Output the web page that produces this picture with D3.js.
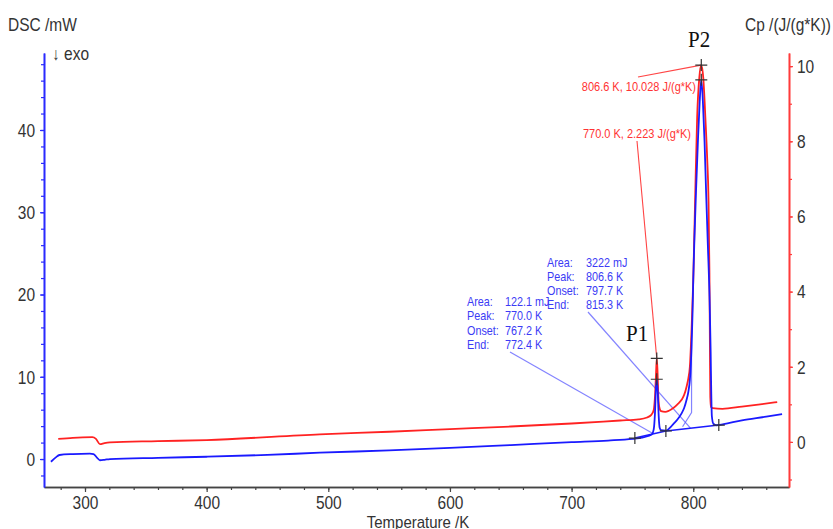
<!DOCTYPE html>
<meta charset="utf-8">
<head>
<style>
  body { margin: 0; background: #fff; }
  text { font-family: Arial, "Liberation Sans", sans-serif; }
</style>
<script src="https://d3js.org/d3.v7.min.js"></script>
</head>
<body>
<div id="chart"></div>
<script>
// DSC signal [temperature /K, mW]
var dscData = [[272,-0.33],[276,0.2],[279,0.49],[290,0.6],[304,0.65],[307,0.6],[310,0.15],[312.3,-0.15],[316,-0.1],[320.5,0],
  [360,0.15],[400,0.28],[450,0.5],[493,0.77],[550,1.05],[600,1.35],[650,1.7],[700,2.05],[730,2.25],[750,2.45],[758,2.6],
  [763,2.8],[766,3.0],[767.5,3.6],[768.5,5.5],[769.3,8.5],[770,9.7],[770.8,8.2],[771.6,5.2],[772.4,3.8],[773.5,3.5],
  [777.5,3.45],[780.5,3.75],[783.6,4.25],[787,4.8],[790.4,5.55],[792.5,6.2],[794.5,7.2],[796,8.2],[797.2,9.6],[798,11.5],
  [798.6,13.6],[799.4,17.7],[800,21.8],[801,27],[802.3,32.7],[803.8,38.5],[805.3,43.5],[806.6,46.1],[807.9,43.5],
  [809.3,38.5],[810.5,32.7],[812,26],[813.5,19],[814.3,13],[814.8,8],[815.3,5.2],[816.5,4.3],[819,4.1],[825,4.25],
  [840,4.7],[860,5.15],[873,5.47]];

// Cp [temperature /K, J/(g*K)]
var cpData = [[278,0.08],[290,0.11],[306,0.125],[309,0.08],[312.3,-0.06],[316,-0.03],[320.5,-0.01],[360,0.02],[400,0.05],
  [493,0.2],[550,0.27],[600,0.34],[650,0.41],[700,0.49],[740,0.57],[755,0.6],[762,0.65],[765.5,0.72],[767.5,0.85],
  [768.7,1.3],[769.5,1.9],[770,2.223],[770.6,1.9],[771.3,1.2],[772,0.94],[773.5,0.82],[777,0.8],[780,0.83],[783.6,0.9],
  [787,1.0],[790.4,1.12],[792.5,1.25],[794.5,1.47],[796,1.7],[797.2,2.0],[798.6,2.98],[800,4.3],[801.7,6.7],[803.2,8.64],
  [805,9.7],[806.6,10.028],[808.2,9.7],[810,8.6],[811.5,7.5],[812.5,6.5],[813.3,4.5],[813.7,2.5],[814,1.2],[814.6,0.93],
  [816,0.9],[824,0.88],[840,0.94],[855,1.0],[869,1.06]];

var xTicks = [300, 400, 500, 600, 700, 800];
var dscTicks = [0, 10, 20, 30, 40];
var cpTicks = [0, 2, 4, 6, 8, 10];

// peak evaluations
var peaks = [
  { name: "P1", T: 770.0, dsc: 9.7, cp: 2.223, area: "122.1 mJ", onset: 767.2, end: 772.4 },
  { name: "P2", T: 806.6, dsc: 46.1, cp: 10.028, area: "3222 mJ", onset: 797.7, end: 815.3 }
];
// integration limits on the DSC baseline [K, mW]
var limits = [[752, 2.55], [777.5, 3.42], [821, 4.13]];
// onset tangent of P2 [K, mW]
var tangent = [[798.6, 15.7], [798.6, 5.65], [791.2, 3.93]];

var width = 833, height = 529, SY = 1.13;

var x = d3.scaleLinear().domain([266.3, 878.7]).range([44, 789]);
var yL = d3.scaleLinear().domain([-3.4, 49.36]).range([487, 53]);
var yR = d3.scaleLinear().domain([-1.2, 10.35]).range([487, 53]);

var svg = d3.select("#chart").append("svg")
  .attr("width", width)
  .attr("height", height);

function addText(x0, y0, s, size, color, anchor, family) {
  var t = svg.append("text")
    .attr("transform", "translate(" + x0 + "," + y0 + ") scale(1," + SY + ")")
    .attr("font-size", size)
    .attr("fill", color)
    .attr("text-anchor", anchor || "start")
    .text(s);
  if (family) t.style("font-family", family);
  return t;
}

function styleAxis(g, color) {
  g.select(".domain").attr("stroke", color).attr("stroke-width", 1.6);
  g.selectAll(".tick line").attr("stroke", color).attr("stroke-width", 1.2);
}

// bottom axis
var gx = svg.append("g").attr("transform", "translate(0,487)");
gx.call(d3.axisBottom(x).tickValues(d3.range(280, 861, 20)).tickSize(3).tickSizeOuter(0).tickFormat(""));
styleAxis(gx, "#444");
var gx2 = svg.append("g").attr("transform", "translate(0,487)");
gx2.call(d3.axisBottom(x).tickValues(xTicks).tickSize(5).tickSizeOuter(0));
styleAxis(gx2, "#444");
gx2.selectAll(".tick text")
  .attr("y", null).attr("dy", null)
  .attr("transform", "translate(0,22) scale(1," + SY + ")")
  .attr("font-size", 15.5).attr("fill", "#333")
  .style("font-family", "Arial, 'Liberation Sans', sans-serif");

// left axis (DSC)
var gl = svg.append("g").attr("transform", "translate(44,0)");
gl.call(d3.axisLeft(yL).tickValues(d3.range(-2, 49, 2)).tickSize(3).tickSizeOuter(0).tickFormat(""));
styleAxis(gl, "#2a2aff");
var gl2 = svg.append("g").attr("transform", "translate(44,0)");
gl2.call(d3.axisLeft(yL).tickValues(dscTicks).tickSize(4).tickSizeOuter(0));
styleAxis(gl2, "#2a2aff");
gl2.selectAll(".tick text")
  .attr("x", null).attr("dy", null)
  .attr("transform", "translate(-9,6.3) scale(1," + SY + ")")
  .attr("font-size", 15.5).attr("fill", "#333")
  .style("font-family", "Arial, 'Liberation Sans', sans-serif");

// right axis (Cp)
var gr = svg.append("g").attr("transform", "translate(789,0)");
gr.call(d3.axisRight(yR).tickValues(d3.range(-1, 11, 1)).tickSize(3).tickSizeOuter(0).tickFormat(""));
styleAxis(gr, "#ff3b3b");
var gr2 = svg.append("g").attr("transform", "translate(789,0)");
gr2.call(d3.axisRight(yR).tickValues(cpTicks).tickSize(4).tickSizeOuter(0));
styleAxis(gr2, "#ff3b3b");
gr2.selectAll(".tick text")
  .attr("x", null).attr("dy", null)
  .attr("transform", "translate(8,6.3) scale(1," + SY + ")")
  .attr("font-size", 15.5).attr("fill", "#333")
  .style("font-family", "Arial, 'Liberation Sans', sans-serif");

// axis titles
addText(8, 31, "DSC /mW", 15.5, "#333");
addText(52, 60, "\u2193 exo", 15.5, "#333");
addText(831, 31, "Cp /(J/(g*K))", 15.5, "#333", "end");
addText(418, 528, "Temperature /K", 15, "#333", "middle");

// evaluation helpers (leader lines, baselines)
var baseAt = function (T) {
  for (var i = 0; i < limits.length - 1; i++) {
    var a = limits[i], b = limits[i + 1];
    if (T >= a[0] && T <= b[0]) return a[1] + (T - a[0]) / (b[0] - a[0]) * (b[1] - a[1]);
  }
  return limits[0][1];
};

var leaderStart = [[510, 352], [588, 312]];
peaks.forEach(function (p, i) {
  svg.append("line")
    .attr("x1", leaderStart[i][0]).attr("y1", leaderStart[i][1])
    .attr("x2", x(p.onset)).attr("y2", yL(baseAt(p.onset)))
    .attr("stroke", "#5a5aff").attr("stroke-opacity", 0.75).attr("stroke-width", 1.2);
});

svg.append("path")
  .datum(tangent)
  .attr("fill", "none")
  .attr("stroke", "#5a5aff").attr("stroke-opacity", 0.75).attr("stroke-width", 1.2)
  .attr("d", d3.line().x(function (d) { return x(d[0]); }).y(function (d) { return yL(d[1]); }));

// red label leaders
var redStart = [[637, 141], [638, 77]];
peaks.forEach(function (p, i) {
  svg.append("line")
    .attr("x1", redStart[i][0]).attr("y1", redStart[i][1])
    .attr("x2", x(p.T)).attr("y2", yR(p.cp))
    .attr("stroke", "#ff4545").attr("stroke-width", 1.1);
});

// curves
var cpLine = d3.line()
  .x(function (d) { return x(d[0]); })
  .y(function (d) { return yR(d[1]); })
  .curve(d3.curveMonotoneX);
var dscLine = d3.line()
  .x(function (d) { return x(d[0]); })
  .y(function (d) { return yL(d[1]); })
  .curve(d3.curveMonotoneX);

svg.append("path").datum(cpData)
  .attr("fill", "none").attr("stroke", "#ff2222").attr("stroke-width", 1.8)
  .attr("d", cpLine);
svg.append("path").datum(dscData)
  .attr("fill", "none").attr("stroke", "#1a1aff").attr("stroke-width", 1.8)
  .attr("d", dscLine);

// integration baselines
svg.append("path").datum(limits)
  .attr("fill", "none").attr("stroke", "#1a1aff").attr("stroke-width", 1.5)
  .attr("d", d3.line().x(function (d) { return x(d[0]); }).y(function (d) { return yL(d[1]); }));

// crosses
var crossPts = limits.map(function (d) { return [x(d[0]), yL(d[1])]; });
peaks.forEach(function (p) {
  crossPts.push([x(p.T), yR(p.cp)]);
  crossPts.push([x(p.T), yL(p.dsc)]);
});
crossPts.forEach(function (c) {
  svg.append("path")
    .attr("d", "M" + (c[0] - 6) + "," + c[1] + "H" + (c[0] + 6) + "M" + c[0] + "," + (c[1] - 6) + "V" + (c[1] + 6))
    .attr("stroke", "#333").attr("stroke-width", 1.2);
});

// peak result blocks
var blockPos = [[467, 306], [547, 266.5]];
peaks.forEach(function (p, i) {
  var rows = [["Area:", p.area], ["Peak:", p.T.toFixed(1) + " K"], ["Onset:", p.onset.toFixed(1) + " K"], ["End:", p.end.toFixed(1) + " K"]];
  rows.forEach(function (r, j) {
    addText(blockPos[i][0], blockPos[i][1] + j * 14.3, r[0], 10.8, "#3b3bf5");
    addText(blockPos[i][0] + (i ? 39 : 38), blockPos[i][1] + j * 14.3, r[1], 10.8, "#3b3bf5");
  });
});

// red peak values
var redLabelPos = [[691, 137.5], [696, 91]];
peaks.forEach(function (p, i) {
  addText(redLabelPos[i][0], redLabelPos[i][1], p.T.toFixed(1) + " K, " + p.cp.toFixed(3) + " J/(g*K)", 11, "#ff3333", "end");
});

// peak names
addText(626, 341, "P1", 21, "#111", "start", "'Liberation Serif', 'Times New Roman', serif");
addText(688, 47, "P2", 21, "#111", "start", "'Liberation Serif', 'Times New Roman', serif");
</script>
</body>
